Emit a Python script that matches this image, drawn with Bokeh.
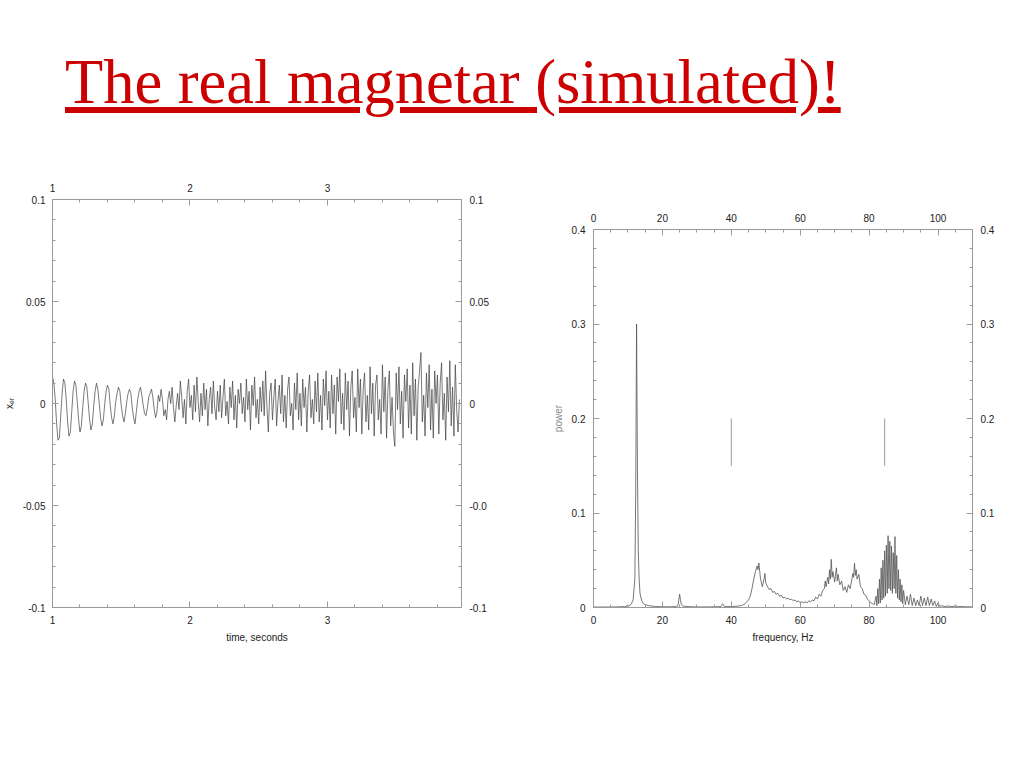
import numpy as np
from bokeh.plotting import figure
from bokeh.models import Range1d, LinearAxis, SingleIntervalTicker, CustomJSTickFormatter, Div, Spacer
from bokeh.layouts import column, row
from bokeh.embed import file_html
from bokeh.resources import INLINE

TITLE = "The real magnetar (simulated)!"

# ---- left panel: time series (values in units of 1e-3) ----
time_start_s = 1.0
time_step_s = 0.01
x_er_milli = [
    13, 10, 2, -10, -18, -17, -6, 5, 12, 10,
    2, -9, -16, -14, -4, 6, 11, 9, 1, -8,
    -14, -11, -2, 6, 10, 8, 0, -8, -13, -10,
    -1, 6, 10, 7, 0, -7, -11, -8, 0, 6,
    9, 7, -1, -7, -10, -6, 1, 5, 8, 6,
    -1, -6, -9, -5, 1, 5, 7, 5, -2, -7,
    -10, -4, 2, 6, 8, 4, -1, -5, -6, -2,
    3, 5, 7, 3, -3, -7,
    -4, 4, 1, 7, 2, -6, -3, -8, 2, 6,
    0, 8, -2, -9, -1, 5, -3, 11, 3, -7,
    2, -10, 6, 12, -2, 4, -8, 9, -4, 13,
    1, -9, 5, -6, 10, -3, 7, -11, 2, 8,
    -5, 11, -2, -8, 6,
    -4, 9, -7, 3, 12, -6, 1, -10, 8, -2,
    11, -8, 4, -12, 7, 0, 10, -5, 3, -9,
    12, -3, 6, -13, 9, -1, 13, -7, 2, -10,
    8, -4, 11, -6, 16, -2, -14, 5, 10, -8,
    3, 12, -11, 1, 9, -5, 14, -9, 4, -12,
    7, 13, -6, 0, -13, 10, -3, 15, -8, 5,
    -11, 12, -2, 8, -14, 6, 14, -7, 2, -10,
    11, -4, 15, -9, 4, -13, 12, -1, 16, -8,
    6, -12, 14, -5, 9, -15, 13, 1, 17, -10,
    5, -13, 15, -3, 11, -16, 8, 16, -7, 3,
    -14, 17, -2, 12, -15, 7, 15, -9, 4, -13,
    18, -5, 10, -16, 9, 14, -8, 2, -15, 19,
    -4, 13, -17, 7, 16, -11, 3, -14, -21, 15,
    -3, 18, -10, 6, -17, 14, 1, 17, -12, 9,
    -15, 20, -6, 12, -18, 8, 16, 25, -9, 4,
    -16, 15, -2, 19, -13, 7, -17, 16, 0, 14,
    -15, 10, 20, -8, 5, -18, 13, -4, 21, -11,
    8, -16, 19, -3, -14, 2,
]

# ---- right panel: power spectrum ----
freq_hz = [
    0, 2, 4, 6, 8, 9, 10, 10.5, 11, 11.5,
    12, 12.25, 12.5, 12.75, 13, 13.25, 13.5, 14, 14.5, 15,
    16, 18, 20, 22, 24, 24.5, 25, 25.25, 25.5, 26,
    28, 30, 33, 36, 37, 37.5, 38, 40, 42, 43,
    44, 45, 45.5, 46, 46.5, 47, 47.5, 47.75, 48, 48.25,
    48.5, 49, 49.5, 49.75, 50, 50.5, 51, 51.5, 52, 52.5,
    53, 53.5, 54, 54.5, 55, 55.5, 56, 56.5, 57, 57.5,
    58, 58.5, 59, 59.5, 60, 60.5, 61, 61.5, 62, 62.5,
    63, 63.5, 64, 64.5, 65, 65.5, 66, 66.5, 67, 67.25,
    67.5, 68, 68.25, 68.5, 68.75, 69, 69.25, 69.5, 70, 70.25,
    70.5, 70.75, 71, 71.5, 72, 72.5, 73, 73.5, 74, 74.5,
    75, 75.25, 75.5, 75.75, 76, 76.25, 76.5, 77, 77.5, 78,
    78.5, 79, 79.5, 80, 80.5, 81, 81.5, 82, 82.25, 82.5,
    82.75, 83, 83.25, 83.5, 83.75, 84, 84.25, 84.5, 84.75, 85,
    85.25, 85.5, 85.75, 86, 86.25, 86.5, 86.75, 87, 87.25, 87.5,
    87.75, 88, 88.25, 88.5, 88.75, 89, 89.25, 89.5, 89.75, 90,
    90.5, 91, 91.5, 92, 92.5, 93, 93.5, 94, 94.5, 95,
    95.5, 96, 96.5, 97, 97.5, 98, 98.5, 99, 99.5, 100,
    100.5, 101, 102, 103, 104, 105, 106, 107, 108, 110,
]
power = [
    0.0005, 0.0005, 0.0005, 0.0006, 0.0008, 0.001, 0.0015, 0.002, 0.004, 0.008,
    0.03, 0.12, 0.30, 0.15, 0.06, 0.03, 0.015, 0.007, 0.004, 0.003,
    0.002, 0.001, 0.0008, 0.0007, 0.001, 0.002, 0.014, 0.008, 0.003, 0.0015,
    0.0008, 0.0006, 0.0006, 0.0008, 0.001, 0.004, 0.001, 0.001, 0.0015, 0.002,
    0.004, 0.008, 0.012, 0.02, 0.03, 0.038, 0.044, 0.040, 0.047, 0.038,
    0.030, 0.022, 0.030, 0.036, 0.026, 0.022, 0.019, 0.020, 0.016, 0.017,
    0.014, 0.015, 0.012, 0.013, 0.010, 0.011, 0.009, 0.010, 0.008, 0.009,
    0.007, 0.008, 0.006, 0.007, 0.005, 0.006, 0.005, 0.006, 0.005, 0.007,
    0.006, 0.008, 0.007, 0.011, 0.009, 0.014, 0.012, 0.018, 0.020, 0.028,
    0.022, 0.032, 0.025, 0.040, 0.030, 0.051, 0.032, 0.038, 0.027, 0.035,
    0.042, 0.028, 0.035, 0.024, 0.028, 0.018, 0.022, 0.016, 0.024, 0.020,
    0.030, 0.036, 0.032, 0.047, 0.034, 0.040, 0.030, 0.035, 0.022, 0.020,
    0.014, 0.013, 0.009, 0.007, 0.005, 0.004, 0.003, 0.012, 0.002, 0.020,
    0.004, 0.030, 0.005, 0.042, 0.008, 0.050, 0.010, 0.060, 0.012, 0.066,
    0.015, 0.076, 0.020, 0.070, 0.018, 0.065, 0.015, 0.058, 0.020, 0.075,
    0.015, 0.055, 0.010, 0.040, 0.008, 0.030, 0.006, 0.024, 0.004, 0.018,
    0.003, 0.012, 0.003, 0.014, 0.002, 0.010, 0.002, 0.008, 0.002, 0.012,
    0.002, 0.010, 0.002, 0.011, 0.002, 0.009, 0.002, 0.007, 0.001, 0.005,
    0.001, 0.002, 0.001, 0.0015, 0.001, 0.0015, 0.001, 0.001, 0.0008, 0.0006,
]

marker_freq_hz = [40, 84.5]
marker_power_lo = [0.15, 0.15]
marker_power_hi = [0.20, 0.20]

x_er = np.array(x_er_milli) / 1000.0
t_s = time_start_s + time_step_s * np.arange(len(x_er))

AX_COLOR = "#9a9a9a"
FONT = "Liberation Sans"


def style_axis(ax, label_color="#222222"):
    ax.axis_line_color = AX_COLOR
    ax.major_tick_line_color = AX_COLOR
    ax.minor_tick_line_color = AX_COLOR
    ax.major_tick_in = 6
    ax.major_tick_out = 0
    ax.minor_tick_in = 3
    ax.minor_tick_out = 0
    ax.major_label_text_font = FONT
    ax.major_label_text_font_size = "10px"
    ax.major_label_text_color = "#222222"
    ax.major_label_standoff = 8
    ax.axis_label_text_font = FONT
    ax.axis_label_text_font_size = "10px"
    ax.axis_label_text_font_style = "normal"
    ax.axis_label_text_color = label_color
    ax.axis_label_standoff = 5


def fmt(code_round, clip=False):
    body = "var s = String(Math.round(tick*%d)/%d);" % (code_round, code_round)
    if clip:
        body += " if (s.length > 4) { s = s.slice(0, 4); }"
    body += " return s;"
    return CustomJSTickFormatter(code=body)


# ---------------- left figure ----------------
p1 = figure(width=505, height=500, x_range=Range1d(1.0, 3.975), y_range=Range1d(-0.1, 0.1),
            output_backend="svg", toolbar_location=None,
            min_border_left=52, min_border_right=44, min_border_top=49, min_border_bottom=43,
            x_axis_label="time, seconds", y_axis_label="x\u2091\u1d63")
p1.outline_line_color = None
p1.grid.visible = False
xt1 = SingleIntervalTicker(interval=1, num_minor_ticks=5)
yt1 = SingleIntervalTicker(interval=0.05, num_minor_ticks=5)
p1.xaxis[0].ticker = xt1
p1.xaxis[0].formatter = fmt(1)
p1.yaxis[0].ticker = yt1
p1.yaxis[0].formatter = fmt(100)
p1.add_layout(LinearAxis(ticker=xt1, formatter=fmt(1)), "above")
p1.add_layout(LinearAxis(ticker=yt1, formatter=fmt(100, clip=True)), "right")
for ax in p1.axis:
    style_axis(ax)
p1.yaxis[0].major_label_standoff = 7
p1.line(t_s, x_er, line_color="#404040", line_width=0.7)

# ---------------- right figure ----------------
p2 = figure(width=505, height=470, x_range=Range1d(0, 110), y_range=Range1d(0, 0.4),
            output_backend="svg", toolbar_location=None,
            min_border_left=88, min_border_right=38, min_border_top=49, min_border_bottom=43,
            x_axis_label="frequency, Hz", y_axis_label="power")
p2.outline_line_color = None
p2.grid.visible = False
xt2 = SingleIntervalTicker(interval=20, num_minor_ticks=4)
yt2 = SingleIntervalTicker(interval=0.1, num_minor_ticks=5)
p2.xaxis[0].ticker = xt2
p2.xaxis[0].formatter = fmt(1)
p2.yaxis[0].ticker = yt2
p2.yaxis[0].formatter = fmt(10)
p2.add_layout(LinearAxis(ticker=xt2, formatter=fmt(1)), "above")
p2.add_layout(LinearAxis(ticker=yt2, formatter=fmt(10)), "right")
for ax in p2.axis:
    style_axis(ax)
p2.yaxis[0].axis_label_text_color = "#888888"
p2.segment(x0=marker_freq_hz, y0=marker_power_lo, x1=marker_freq_hz, y1=marker_power_hi,
           line_color="#9a9a9a", line_width=1)
p2.line(freq_hz, power, line_color="#555555", line_width=0.8)

title = Div(
    text=('<div style="font-family:\'Liberation Serif\',\'Times New Roman\',serif;'
          'font-size:62.5px;color:#cc0000;text-decoration:underline;line-height:1;'
          'padding:51px 0 0 65px;white-space:nowrap;">' + TITLE + '</div>'),
    width=1010, height=150, margin=0)

right_col = column(Spacer(width=505, height=30, margin=0), p2, spacing=0)
layout = column(title, row(p1, right_col, spacing=0), spacing=0)

with open("out.html", "w") as f:
    f.write(file_html(layout, INLINE))
